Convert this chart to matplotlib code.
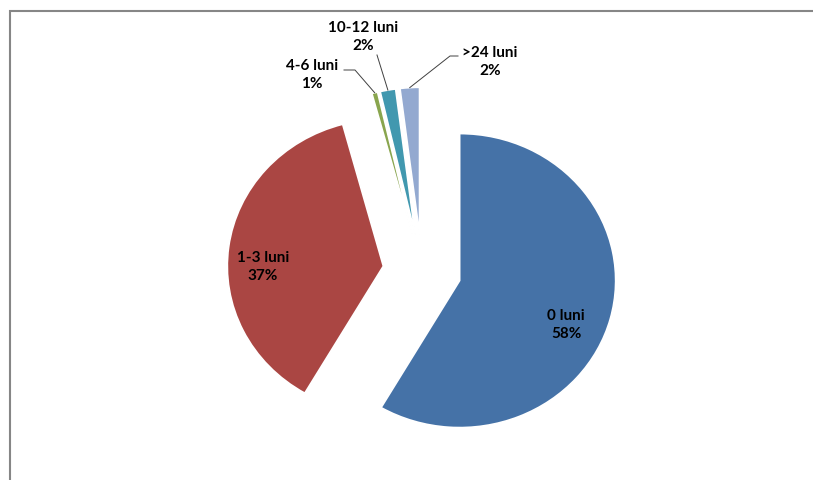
import numpy as np
import matplotlib
matplotlib.use("Agg")
import matplotlib.pyplot as plt
from matplotlib.patches import Rectangle

# data
categories = ["0 luni", "1-3 luni", "4-6 luni", "10-12 luni", ">24 luni"]
values = [58.4, 37.4, 0.6, 1.6, 2.0]
colors = ["#4572A7", "#AA4643", "#89A54E", "#4198AF", "#93A9D0"]

W, H = 813, 481
sx = 156 / 147  # pie looks slightly wider than tall
R = 147


def px(x, y):
    # pixel position -> data coords
    return x / sx, H - y


plt.rcParams['font.family'] = ['Lato', 'DejaVu Sans']
fig = plt.figure(figsize=(W / 100, H / 100), dpi=100)
ax = fig.add_axes([0, 0, 1, 1])

cx, cy = px(422, 272)
# explode is absolute in pie(), so scale it by the radius
wedges, _ = ax.pie(values, colors=colors, startangle=90, counterclock=False,
                   explode=[0.25 * R] * len(values), radius=R, center=(cx, cy),
                   wedgeprops=dict(edgecolor="white", linewidth=1.2))
ax.set_aspect("auto")
ax.set_xlim(0, W / sx)
ax.set_ylim(0, H)
ax.axis("off")

pcts = [f"{round(v / sum(values) * 100):.0f}%" for v in values]
labels = [f"{c}\n{p}" for c, p in zip(categories, pcts)]

# label positions (pixels)
label_pos = [(566, 325), (263, 267), (312, 75), (363, 37), (490, 62)]
for lab, (lx, ly) in zip(labels, label_pos):
    x, y = px(lx, ly)
    ax.text(x, y, lab, ha="center", va="center", fontsize=11,
            fontweight="bold", linespacing=1.45, color="black")

# leader lines for the small slices
leader_start = {2: [(344, 71), (355, 71)], 3: [(377, 56)], 4: [(458, 57), (450, 57)]}
for i, pts in leader_start.items():
    w = wedges[i]
    mid = np.deg2rad((w.theta1 + w.theta2) / 2)
    ex = w.center[0] + w.r * np.cos(mid)
    ey = w.center[1] + w.r * np.sin(mid)
    xs = [px(*p)[0] for p in pts] + [ex]
    ys = [px(*p)[1] for p in pts] + [ey]
    ax.plot(xs, ys, color="#404040", lw=0.7)

# chart area border
fig.patches.append(Rectangle((10 / W, -0.1), 1.2, (H - 12) / H + 0.1,
                             transform=fig.transFigure, fill=False,
                             edgecolor="#868686", linewidth=1.5))

fig.savefig("out.png", dpi=100)
